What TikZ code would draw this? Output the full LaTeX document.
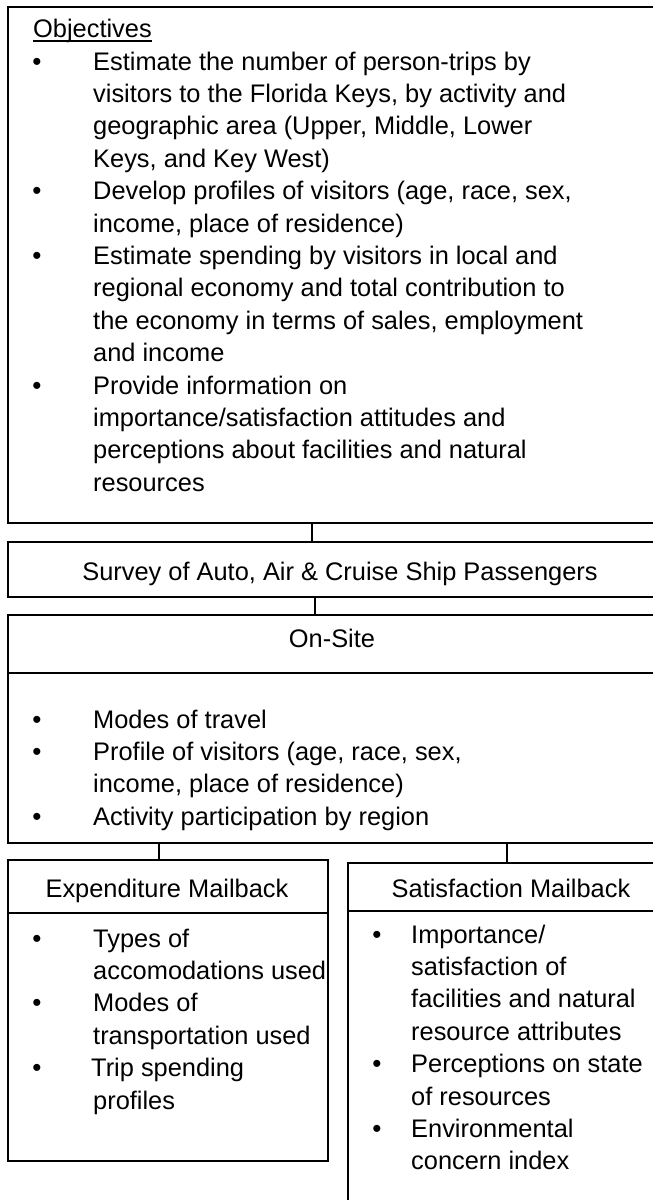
\documentclass[tikz,border=0pt]{standalone}
\usepackage{fontspec}
\setmainfont{Liberation Sans}
\begin{document}
\begin{tikzpicture}[x=1pt,y=-1pt,
  frame/.style={draw=black, line width=2pt, anchor=north west, inner sep=0pt},
  txt/.style={anchor=base west, inner sep=0pt, font=\fontsize{25.4}{30}\selectfont},
  ctr/.style={anchor=base, inner sep=0pt, font=\fontsize{25.4}{30}\selectfont},
  dot/.style={anchor=base, inner sep=0pt, font=\fontsize{26}{30}\selectfont},
  link/.style={draw=black, line width=2pt}]
\useasboundingbox (0,0) rectangle (653,1200);
\clip (0,0) rectangle (653,1200);

% ---------- boxes ----------
\node[frame, minimum width=668pt, minimum height=516pt] (obj) at (7,6) {};
\node[frame, minimum width=668pt, minimum height=55pt] (survey) at (7,541) {};
\node[frame, minimum width=668pt, minimum height=58pt] (onhead) at (7,614) {};
\node[frame, minimum width=668pt, minimum height=170pt] (onbody) at (7,672) {};
\node[frame, minimum width=320pt, minimum height=53pt] (exphead) at (7,859) {};
\node[frame, minimum width=320pt, minimum height=248pt] (expbody) at (7,912) {};
\node[frame, minimum width=328pt, minimum height=48pt] (sathead) at (347,862) {};
\node[frame, minimum width=328pt, minimum height=310pt] (satbody) at (347,910) {};

% ---------- connectors ----------
\coordinate (c1) at (312,0);
\coordinate (c2) at (315,0);
\coordinate (c3) at (159,0);
\coordinate (c4) at (507,0);
\draw[link] (obj.south -| c1) -- (survey.north -| c1);
\draw[link] (survey.south -| c2) -- (onhead.north -| c2);
\draw[link] (onbody.south -| c3) -- (exphead.north -| c3);
\draw[link] (onbody.south -| c4) -- (sathead.north -| c4);

% ---------- objectives ----------
\node[txt] (objt) at (33,37) {Objectives};
\draw[line width=1.4pt] ([yshift=-4pt]objt.base west) -- ([yshift=-4pt]objt.base east);

\node[dot] (ob1) at (37,70) {•};
\node[dot] (ob2) at (37,199.6) {•};
\node[dot] (ob3) at (37,264.4) {•};
\node[dot] (ob4) at (37,394) {•};

\node[txt] (o1)  at (93,70)    {Estimate the number of person-trips by};
\node[txt] (o2)  at (93,102.4) {visitors to the Florida Keys, by activity and};
\node[txt] (o3)  at (93,134.8) {geographic area (Upper, Middle, Lower};
\node[txt] (o4)  at (93,167.2) {Keys, and Key West)};
\node[txt] (o5)  at (93,199.6) {Develop profiles of visitors (age, race, sex,};
\node[txt] (o6)  at (93,232)   {income, place of residence)};
\node[txt] (o7)  at (93,264.4) {Estimate spending by visitors in local and};
\node[txt] (o8)  at (93,296.8) {regional economy and total contribution to};
\node[txt] (o9)  at (93,329.2) {the economy in terms of sales, employment};
\node[txt] (o10) at (93,361.6) {and income};
\node[txt] (o11) at (93,394)   {Provide information on};
\node[txt] (o12) at (93,426.4) {importance/satisfaction attitudes and};
\node[txt] (o13) at (93,458.8) {perceptions about facilities and natural};
\node[txt] (o14) at (93,491.2) {resources};

% ---------- survey ----------
\node[ctr] (st) at (340,580) {Survey of Auto, Air \& Cruise Ship Passengers};

% ---------- on-site ----------
\node[ctr] (ont) at (332,647) {On-Site};
\node[dot] (nb1) at (37,728) {•};
\node[dot] (nb2) at (37,760.4) {•};
\node[dot] (nb3) at (37,825.2) {•};
\node[txt] (n1) at (93,728)   {Modes of travel};
\node[txt] (n2) at (93,760.4) {Profile of visitors (age, race, sex,};
\node[txt] (n3) at (93,792.8) {income, place of residence)};
\node[txt] (n4) at (93,825.2) {Activity participation by region};

% ---------- expenditure mailback ----------
\node[ctr] (et) at (167,897) {Expenditure Mailback};
\node[dot] (eb1) at (37,947) {•};
\node[dot] (eb2) at (37,1011.8) {•};
\node[dot] (eb3) at (37,1076.6) {•};
\node[txt] (e1) at (93,947)    {Types of};
\node[txt] (e2) at (93,979.4)  {accomodations used};
\node[txt] (e3) at (93,1011.8) {Modes of};
\node[txt] (e4) at (93,1044.2) {transportation used};
\node[txt] (e5) at (91,1076.6) {Trip spending};
\node[txt] (e6) at (93,1109)   {profiles};

% ---------- satisfaction mailback ----------
\node[ctr] (sat) at (511,897) {Satisfaction Mailback};
\node[dot] (sb1) at (377,943) {•};
\node[dot] (sb2) at (377,1072.6) {•};
\node[dot] (sb3) at (377,1137.4) {•};
\node[txt] (s1) at (411,943)    {Importance/};
\node[txt] (s2) at (411,975.4)  {satisfaction of};
\node[txt] (s3) at (411,1007.8) {facilities and natural};
\node[txt] (s4) at (411,1040.2) {resource attributes};
\node[txt] (s5) at (411,1072.6) {Perceptions on state};
\node[txt] (s6) at (411,1105)   {of resources};
\node[txt] (s7) at (411,1137.4) {Environmental};
\node[txt] (s8) at (411,1169.8) {concern index};
\end{tikzpicture}
\end{document}
